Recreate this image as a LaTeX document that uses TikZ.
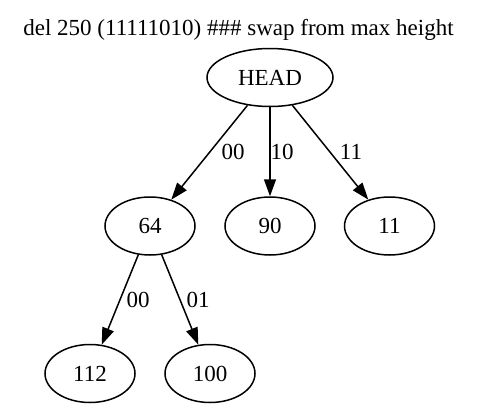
\documentclass[tikz,border=0pt]{standalone}
\usepackage{fontspec}
\setmainfont{Liberation Serif}
\usetikzlibrary{shapes.geometric,arrows.meta}
\begin{document}
\begin{tikzpicture}[x=1pt,y=1pt,
  every node/.style={font=\fontsize{23}{27}\selectfont},
  vtx/.style={draw,ellipse,line width=1.5pt,minimum width=90pt,minimum height=58pt,inner sep=0pt},
  edge/.style={draw,line width=1.5pt,-{Triangle[length=17pt,width=12pt]}},
  lbl/.style={inner sep=1pt}]
\useasboundingbox (0,0) rectangle (480,-410);
\node[anchor=base] (title) at (238.5,-35) {del 250 (11111010) \#\#\# swap from max height};
\node[vtx,minimum width=126pt] (head) at (270,-77.5) {HEAD};
\node[vtx] (n64) at (150,-226) {64};
\node[vtx] (n90) at (270,-226) {90};
\node[vtx] (n11) at (389.5,-226) {11};
\node[vtx] (n112) at (90,-373.5) {112};
\node[vtx] (n100) at (210,-373.5) {100};
\path[edge] (head) -- (n64) node[lbl] at (233,-152) {00};
\path[edge] (head) -- (n90) node[lbl] at (282,-152) {10};
\path[edge] (head) -- (n11) node[lbl] at (351,-152) {11};
\path[edge] (n64) -- (n112) node[lbl] at (138,-300) {00};
\path[edge] (n64) -- (n100) node[lbl] at (198,-300) {01};
\end{tikzpicture}
\end{document}
